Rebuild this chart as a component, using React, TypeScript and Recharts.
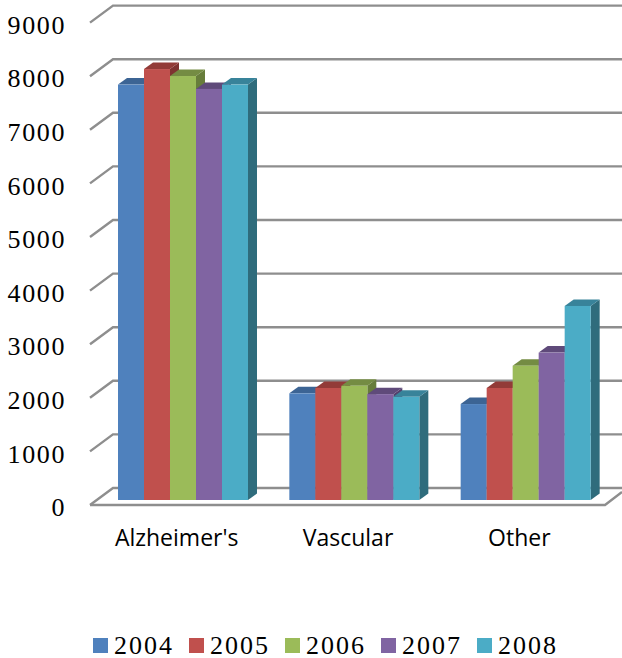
import React from 'react';
import { BarChart, Bar, XAxis, YAxis, CartesianGrid, Legend } from 'recharts';

const categories = ["Alzheimer's", 'Vascular', 'Other'];
const years = ['2004', '2005', '2006', '2007', '2008'];
const values2004 = [7750, 1990, 1790];
const values2005 = [8040, 2090, 2090];
const values2006 = [7910, 2130, 2505];
const values2007 = [7670, 1975, 2750];
const values2008 = [7750, 1925, 3620];
const yTicks = [0, 1000, 2000, 3000, 4000, 5000, 6000, 7000, 8000, 9000];

const seriesValues = [values2004, values2005, values2006, values2007, values2008];
const frontColors = ['#4F81BD', '#C0504D', '#9BBB59', '#8064A2', '#4BACC6'];
const topColors = ['#3C6494', '#923B38', '#748C43', '#5F4A7A', '#38839A'];
const sideColors = ['#335580', '#7F3331', '#677D3B', '#533F6C', '#2F6C7C'];

const chartData = categories.map((name, i) => {
  const row: Record<string, string | number> = { name };
  years.forEach((year, s) => {
    row[year] = seriesValues[s][i];
  });
  return row;
});

const serifFont = '"Liberation Serif", serif';
const gridColor = '#8E8E8E';
const depthX = 9;
const depthY = 6.5;

// 3D box: side and top faces behind the front rectangle
const Box3D = (props: any) => {
  const { x, y, width, height, seriesIndex } = props;
  const right = x + width;
  const base = y + height;
  return (
    <g>
      <polygon
        points={`${right},${y} ${right + depthX},${y - depthY} ${right + depthX},${base - depthY} ${right},${base}`}
        fill={sideColors[seriesIndex]}
      />
      <polygon
        points={`${x},${y} ${x + depthX},${y - depthY} ${right + depthX},${y - depthY} ${right},${y}`}
        fill={topColors[seriesIndex]}
      />
      <rect x={x} y={y} width={width} height={height} fill={frontColors[seriesIndex]} />
    </g>
  );
};

// wall line, the slanted piece on the left, and the floor for the zero line
const WallLine = (props: any) => {
  const { y1, x2, index } = props;
  const y = y1;
  const stroke = { stroke: gridColor, strokeWidth: 2.4, fill: 'none' };
  return (
    <g key={index}>
      <polyline points={`90,${y + 5} 113,${y - 12} ${x2 + 10},${y - 12}`} {...stroke} />
      {index === 0 ? (
        <polyline points={`90,${y + 5} 605,${y + 5} 622,${y - 8}`} {...stroke} />
      ) : null}
    </g>
  );
};

const LegendRow = ({ payload }: any) => (
  <div
    style={{
      display: 'flex',
      justifyContent: 'flex-start',
      alignItems: 'center',
      boxSizing: 'border-box',
      height: 30,
      paddingLeft: 93,
      paddingTop: 5,
      fontFamily: serifFont,
      fontSize: 26,
      letterSpacing: 2,
      color: '#000',
    }}
  >
    {(payload || []).map((item: any) => (
      <div key={item.value} style={{ display: 'flex', alignItems: 'center', width: 96 }}>
        <span style={{ width: 15, height: 15, background: item.color, marginRight: 6 }} />
        <span>{item.value}</span>
      </div>
    ))}
  </div>
);

export default function App() {
  return (
    <div style={{ position: 'absolute', left: 0, top: 0, width: 622, height: 658, background: '#fff' }}>
      <BarChart
        width={622}
        height={658}
        data={chartData}
        margin={{ top: 17.6, right: 10, bottom: 0, left: 0 }}
        barCategoryGap={20}
        barGap={0}
      >
        <CartesianGrid vertical={false} horizontal={(p: any) => <WallLine {...p} />} />
        <XAxis
          dataKey="name"
          height={128}
          axisLine={false}
          tickLine={false}
          tickMargin={24}
          tick={{ fontFamily: '"Open Sans", sans-serif', fontSize: 23, fill: '#000', dx: -7 }}
          interval={0}
        />
        <YAxis
          width={98}
          domain={[0, 9000]}
          ticks={yTicks}
          interval={0}
          axisLine={false}
          tickLine={false}
          tickMargin={26}
          tick={{ fontFamily: serifFont, fontSize: 26, letterSpacing: 1.6, fill: '#000', dy: 7 }}
        />
        <Legend verticalAlign="bottom" content={<LegendRow />} />
        {years.map((year, s) => (
          <Bar
            key={year}
            dataKey={year}
            fill={frontColors[s]}
            isAnimationActive={false}
            shape={(p: any) => <Box3D {...p} seriesIndex={s} />}
          />
        ))}
      </BarChart>
    </div>
  );
}
